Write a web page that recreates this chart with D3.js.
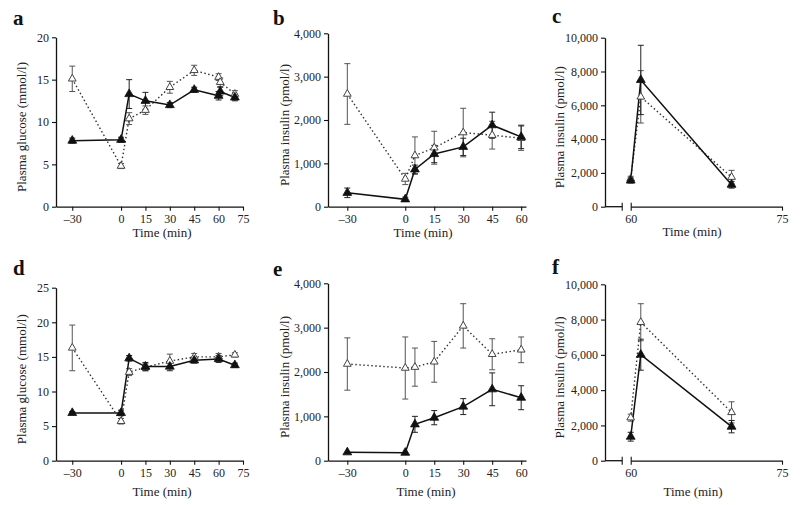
<!DOCTYPE html>
<html><head><meta charset="utf-8">
<script src="https://cdn.jsdelivr.net/npm/d3@7"></script>
<style>body{margin:0;background:#fff;}</style></head>
<body><svg id="c" width="800" height="505" font-family="Liberation Serif"></svg>
<script>
// ---- data ----
const timesA = [-30, 0, 5, 15, 30, 45, 60, 61, 70];
const aOpen = [15.1, 4.8, 10.4, 11.4, 14.1, 16.1, 15.3, 14.7, 13.3];
const aOpenErr = [1.5, 0.3, 0.7, 0.5, 0.7, 0.6, 0.4, 0.5, 0.4];
const aFill = [7.8, 7.9, 13.3, 12.5, 12.0, 13.8, 13.1, 13.6, 12.9];
const aFillErr = [0.3, 0.3, 1.7, 1.0, 0.3, 0.3, 0.5, 0.5, 0.4];

const timesB = [-30, 0, 5, 15, 30, 45, 60];
const bOpen = [2600, 640, 1180, 1360, 1710, 1650, 1580];
const bOpenErr = [700, 130, 430, 380, 560, 320, 280];
const bFill = [320, 170, 860, 1215, 1380, 1880, 1610];
const bFillErr = [110, 50, 100, 200, 200, 300, 270];

const timesC = [60, 61, 70];
const cOpen = [1650, 6500, 1750];
const cOpenErr = [150, 1550, 400];
const cFill = [1550, 7500, 1300];
const cFillErr = [150, 2050, 200];

const timesD = [-30, 0, 5, 15, 30, 45, 60, 70];
const dOpen = [16.3, 5.7, 12.8, 13.5, 14.4, 15.0, 15.0, 15.3];
const dOpenErr = [3.3, 0.4, 0.5, 0.5, 1.0, 0.5, 0.5, 0.3];
const dFill = [6.9, 6.9, 14.8, 13.6, 13.6, 14.5, 14.7, 13.8];
const dFillErr = [0.2, 0.4, 0.4, 0.6, 0.6, 0.4, 0.5, 0.3];

const timesE = [-30, 0, 5, 15, 30, 45, 60];
const eOpen = [2180, 2090, 2110, 2230, 3040, 2400, 2500];
const eOpenErr = [590, 700, 430, 460, 500, 350, 290];
const eFill = [190, 180, 820, 970, 1220, 1610, 1420];
const eFillErr = [0, 0, 180, 160, 180, 370, 270];

const timesF = [60, 61, 70];
const fOpen = [2440, 7850, 2740];
const fOpenErr = [200, 1050, 600];
const fFill = [1360, 6010, 1930];
const fFillErr = [250, 880, 350];

const xTicksAD = [-30, 0, 15, 30, 45, 60, 75];
const xTicksBE = [-30, 0, 15, 30, 45, 60];
const xTicksCF = [60, 75];
const yTicksGlucA = [0, 5, 10, 15, 20];
const yTicksGlucD = [0, 5, 10, 15, 20, 25];
const yTicksIns4 = [0, 1000, 2000, 3000, 4000];
const yTicksIns10 = [0, 2000, 4000, 6000, 8000, 10000];

const glucLabel = "Plasma glucose (mmol/l)";
const insLabel = "Plasma insulin (pmol/l)";
const timeLabel = "Time (min)";

// ---- drawing ----
const FONT = "Liberation Serif";
const svg = d3.select("#c");
const fmt = v => v < 0 ? "\u2013" + Math.abs(v) : d3.format(",")(v);

const panels = [
  {letter:"a", lx:13, ly:25, times:timesA, open:aOpen, openErr:aOpenErr, fill:aFill, fillErr:aFillErr,
   xd:[-40,75], xr:[56,243], yd:[0,20], yr:[206.7,37.3], xt:xTicksAD, yt:yTicksGlucA, ylab:glucLabel, ylx:26, tlx:162, tly:237, brk:false},
  {letter:"b", lx:273, ly:25, times:timesB, open:bOpen, openErr:bOpenErr, fill:bFill, fillErr:bFillErr,
   xd:[-40,62.5], xr:[328,526], yd:[0,4000], yr:[206.7,33.3], xt:xTicksBE, yt:yTicksIns4, ylab:insLabel, ylx:289, tlx:423, tly:237, brk:false},
  {letter:"c", lx:552, ly:23, times:timesC, open:cOpen, openErr:cOpenErr, fill:cFill, fillErr:cFillErr,
   xd:[60,75], xr:[630.7,782], yd:[0,10000], yr:[206.7,37.7], xt:xTicksCF, yt:yTicksIns10, ylab:insLabel, ylx:564, tlx:692, tly:236, brk:true, yax:605},
  {letter:"d", lx:13, ly:275, times:timesD, open:dOpen, openErr:dOpenErr, fill:dFill, fillErr:dFillErr,
   xd:[-40,75], xr:[56,243], yd:[0,25], yr:[460.7,287.7], xt:xTicksAD, yt:yTicksGlucD, ylab:glucLabel, ylx:26, tlx:162, tly:496, brk:false},
  {letter:"e", lx:273, ly:276, times:timesE, open:eOpen, openErr:eOpenErr, fill:eFill, fillErr:eFillErr,
   xd:[-40,62.5], xr:[328,526], yd:[0,4000], yr:[460.7,283.3], xt:xTicksBE, yt:yTicksIns4, ylab:insLabel, ylx:289, tlx:426, tly:496, brk:false},
  {letter:"f", lx:552, ly:274, times:timesF, open:fOpen, openErr:fOpenErr, fill:fFill, fillErr:fFillErr,
   xd:[60,75], xr:[630.7,782], yd:[0,10000], yr:[460.7,284.3], xt:xTicksCF, yt:yTicksIns10, ylab:insLabel, ylx:564, tlx:693, tly:496, brk:true, yax:605}
];

const tri = d3.symbol().type(d3.symbolTriangle);

panels.forEach(p => {
  const g = svg.append("g").attr("font-family", FONT);
  const x = d3.scaleLinear().domain(p.xd).range(p.xr);
  const y = d3.scaleLinear().domain(p.yd).range(p.yr);
  const yAxisX = p.brk ? p.yax : p.xr[0];
  const y0 = p.yr[0];

  // panel letter
  g.append("text").attr("x", p.lx).attr("y", p.ly).text(p.letter)
    .attr("font-family", FONT).attr("font-size", 21).attr("font-weight", "bold").attr("fill", "#111");

  // y axis
  const ya = g.append("g").attr("transform", `translate(${yAxisX},0)`)
    .call(d3.axisLeft(y).tickValues(p.yt).tickFormat(fmt).tickSize(4).tickPadding(3).tickSizeOuter(0));
  // x axis
  const xa = g.append("g").attr("transform", `translate(0,${y0})`)
    .call(d3.axisBottom(x).tickValues(p.xt).tickFormat(fmt).tickSize(4).tickPadding(4).tickSizeOuter(0));
  [ya, xa].forEach(a => {
    a.attr("font-family", FONT).attr("font-size", 12);
    a.selectAll("path.domain").attr("stroke", "#111").attr("stroke-width", 1.3);
    a.selectAll(".tick line").attr("stroke", "#111").attr("stroke-width", 1.1);
    a.selectAll(".tick text").attr("fill", "#222");
  });
  if (p.brk) {
    const bx = x(p.xd[0]) - 8.5;
    g.append("line").attr("x1", yAxisX).attr("x2", bx).attr("y1", y0).attr("y2", y0)
      .attr("stroke", "#111").attr("stroke-width", 1.3);
    g.append("line").attr("x1", bx).attr("x2", bx).attr("y1", y0 - 4).attr("y2", y0 + 4)
      .attr("stroke", "#111").attr("stroke-width", 1.1);
    xa.select(".tick line").attr("y1", -4);
  }

  // axis titles
  g.append("text").attr("transform", `translate(${p.ylx},${(p.yr[0] + p.yr[1]) / 2 + 5}) rotate(-90)`)
    .attr("font-family", FONT)
    .attr("text-anchor", "middle").attr("font-size", 13).attr("fill", "#222").text(p.ylab);
  g.append("text").attr("x", p.tlx).attr("y", p.tly)
    .attr("font-family", FONT)
    .attr("text-anchor", "middle").attr("font-size", 13).attr("fill", "#222").text(timeLabel);

  const series = [
    {vals:p.open, err:p.openErr, open:true},
    {vals:p.fill, err:p.fillErr, open:false}
  ];
  // error bars
  series.forEach(s => {
    const col = s.open ? "#555" : "#222";
    s.vals.forEach((v, i) => {
      const e = s.err[i];
      if (!e) return;
      const cx = x(p.times[i]);
      g.append("line").attr("x1", cx).attr("x2", cx).attr("y1", y(v - e)).attr("y2", y(v + e))
        .attr("stroke", col).attr("stroke-width", 1);
      [v - e, v + e].forEach(t => {
        g.append("line").attr("x1", cx - 3).attr("x2", cx + 3).attr("y1", y(t)).attr("y2", y(t))
          .attr("stroke", col).attr("stroke-width", 1);
      });
    });
  });
  // lines
  const line = d3.line().x((d, i) => x(p.times[i])).y(d => y(d));
  g.append("path").datum(p.open).attr("d", line).attr("fill", "none")
    .attr("stroke", "#333").attr("stroke-width", 1.4).attr("stroke-dasharray", "1.5,2.5");
  g.append("path").datum(p.fill).attr("d", line).attr("fill", "none")
    .attr("stroke", "#111").attr("stroke-width", 1.5);
  // markers
  g.selectAll(null).data(p.open).enter().append("path")
    .attr("d", tri.size(26)())
    .attr("transform", (d, i) => `translate(${x(p.times[i])},${y(d)})`)
    .attr("fill", "#fff").attr("stroke", "#444").attr("stroke-width", 1);
  g.selectAll(null).data(p.fill).enter().append("path")
    .attr("d", tri.size(34)())
    .attr("transform", (d, i) => `translate(${x(p.times[i])},${y(d)})`)
    .attr("fill", "#111").attr("stroke", "#111").attr("stroke-width", 0.8);
});
</script></body></html>
